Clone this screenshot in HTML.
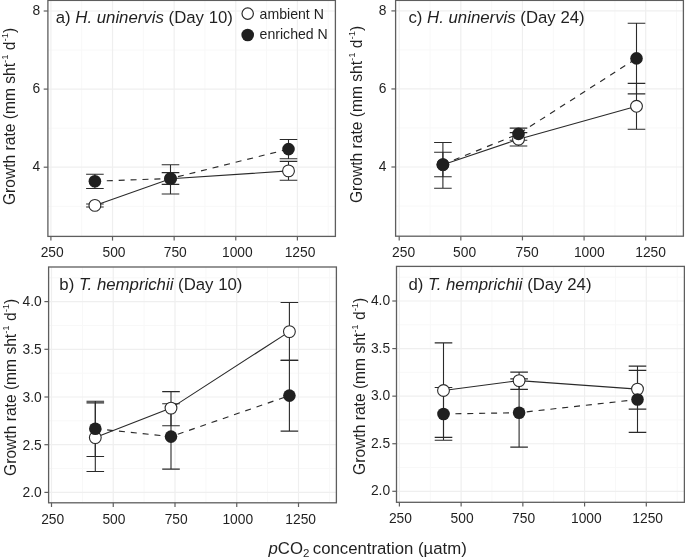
<!DOCTYPE html>
<html><head><meta charset="utf-8"><style>
html,body{margin:0;padding:0;background:#fff;width:685px;height:558px;overflow:hidden}
svg{display:block;filter:grayscale(1)}
text{font-family:"Liberation Sans",sans-serif;fill:#231f20}
.tk{font-size:13.8px}
.ti{font-size:16.8px}
.lg{font-size:14.1px}
.yl{font-size:15.6px}
.xl{font-size:16.75px}
</style></head><body>
<svg width="685" height="558" viewBox="0 0 685 558">
<rect width="685" height="558" fill="#fff"/>
<line x1="81.71" y1="0.40" x2="81.71" y2="236.40" stroke="#f8f8f8" stroke-width="1.0"/>
<line x1="143.34" y1="0.40" x2="143.34" y2="236.40" stroke="#f8f8f8" stroke-width="1.0"/>
<line x1="204.96" y1="0.40" x2="204.96" y2="236.40" stroke="#f8f8f8" stroke-width="1.0"/>
<line x1="266.59" y1="0.40" x2="266.59" y2="236.40" stroke="#f8f8f8" stroke-width="1.0"/>
<line x1="328.21" y1="0.40" x2="328.21" y2="236.40" stroke="#f8f8f8" stroke-width="1.0"/>
<line x1="47.90" y1="206.25" x2="335.40" y2="206.25" stroke="#f8f8f8" stroke-width="1.0"/>
<line x1="47.90" y1="128.15" x2="335.40" y2="128.15" stroke="#f8f8f8" stroke-width="1.0"/>
<line x1="47.90" y1="50.05" x2="335.40" y2="50.05" stroke="#f8f8f8" stroke-width="1.0"/>
<line x1="50.90" y1="0.40" x2="50.90" y2="236.40" stroke="#efefef" stroke-width="1.2"/>
<line x1="112.52" y1="0.40" x2="112.52" y2="236.40" stroke="#efefef" stroke-width="1.2"/>
<line x1="174.15" y1="0.40" x2="174.15" y2="236.40" stroke="#efefef" stroke-width="1.2"/>
<line x1="235.77" y1="0.40" x2="235.77" y2="236.40" stroke="#efefef" stroke-width="1.2"/>
<line x1="297.40" y1="0.40" x2="297.40" y2="236.40" stroke="#efefef" stroke-width="1.2"/>
<line x1="47.90" y1="167.20" x2="335.40" y2="167.20" stroke="#efefef" stroke-width="1.2"/>
<line x1="47.90" y1="89.10" x2="335.40" y2="89.10" stroke="#efefef" stroke-width="1.2"/>
<line x1="47.90" y1="11.00" x2="335.40" y2="11.00" stroke="#efefef" stroke-width="1.2"/>
<rect x="47.90" y="0.40" width="287.50" height="236.00" fill="none" stroke="#5e5e5e" stroke-width="1.3"/>
<line x1="50.90" y1="236.40" x2="50.90" y2="240.60" stroke="#5e5e5e" stroke-width="1.2"/>
<text x="52.15" y="256.80" text-anchor="middle" class="tk">250</text>
<line x1="112.52" y1="236.40" x2="112.52" y2="240.60" stroke="#5e5e5e" stroke-width="1.2"/>
<text x="113.97" y="256.80" text-anchor="middle" class="tk">500</text>
<line x1="174.15" y1="236.40" x2="174.15" y2="240.60" stroke="#5e5e5e" stroke-width="1.2"/>
<text x="175.25" y="256.80" text-anchor="middle" class="tk">750</text>
<line x1="235.77" y1="236.40" x2="235.77" y2="240.60" stroke="#5e5e5e" stroke-width="1.2"/>
<text x="237.37" y="256.80" text-anchor="middle" class="tk">1000</text>
<line x1="297.40" y1="236.40" x2="297.40" y2="240.60" stroke="#5e5e5e" stroke-width="1.2"/>
<text x="300.00" y="256.80" text-anchor="middle" class="tk">1250</text>
<line x1="43.70" y1="167.20" x2="47.90" y2="167.20" stroke="#5e5e5e" stroke-width="1.2"/>
<text x="40.30" y="171.20" text-anchor="end" class="tk">4</text>
<line x1="43.70" y1="89.10" x2="47.90" y2="89.10" stroke="#5e5e5e" stroke-width="1.2"/>
<text x="40.30" y="93.10" text-anchor="end" class="tk">6</text>
<line x1="43.70" y1="11.00" x2="47.90" y2="11.00" stroke="#5e5e5e" stroke-width="1.2"/>
<text x="40.30" y="15.00" text-anchor="end" class="tk">8</text>
<line x1="430.01" y1="0.40" x2="430.01" y2="236.20" stroke="#f8f8f8" stroke-width="1.0"/>
<line x1="491.64" y1="0.40" x2="491.64" y2="236.20" stroke="#f8f8f8" stroke-width="1.0"/>
<line x1="553.26" y1="0.40" x2="553.26" y2="236.20" stroke="#f8f8f8" stroke-width="1.0"/>
<line x1="614.89" y1="0.40" x2="614.89" y2="236.20" stroke="#f8f8f8" stroke-width="1.0"/>
<line x1="676.51" y1="0.40" x2="676.51" y2="236.20" stroke="#f8f8f8" stroke-width="1.0"/>
<line x1="395.60" y1="206.03" x2="683.40" y2="206.03" stroke="#f8f8f8" stroke-width="1.0"/>
<line x1="395.60" y1="127.97" x2="683.40" y2="127.97" stroke="#f8f8f8" stroke-width="1.0"/>
<line x1="395.60" y1="49.92" x2="683.40" y2="49.92" stroke="#f8f8f8" stroke-width="1.0"/>
<line x1="399.20" y1="0.40" x2="399.20" y2="236.20" stroke="#efefef" stroke-width="1.2"/>
<line x1="460.82" y1="0.40" x2="460.82" y2="236.20" stroke="#efefef" stroke-width="1.2"/>
<line x1="522.45" y1="0.40" x2="522.45" y2="236.20" stroke="#efefef" stroke-width="1.2"/>
<line x1="584.08" y1="0.40" x2="584.08" y2="236.20" stroke="#efefef" stroke-width="1.2"/>
<line x1="645.70" y1="0.40" x2="645.70" y2="236.20" stroke="#efefef" stroke-width="1.2"/>
<line x1="395.60" y1="167.00" x2="683.40" y2="167.00" stroke="#efefef" stroke-width="1.2"/>
<line x1="395.60" y1="88.95" x2="683.40" y2="88.95" stroke="#efefef" stroke-width="1.2"/>
<line x1="395.60" y1="10.90" x2="683.40" y2="10.90" stroke="#efefef" stroke-width="1.2"/>
<rect x="395.60" y="0.40" width="287.80" height="235.80" fill="none" stroke="#5e5e5e" stroke-width="1.3"/>
<line x1="399.20" y1="236.20" x2="399.20" y2="240.40" stroke="#5e5e5e" stroke-width="1.2"/>
<text x="403.60" y="256.60" text-anchor="middle" class="tk">250</text>
<line x1="460.82" y1="236.20" x2="460.82" y2="240.40" stroke="#5e5e5e" stroke-width="1.2"/>
<text x="464.62" y="256.60" text-anchor="middle" class="tk">500</text>
<line x1="522.45" y1="236.20" x2="522.45" y2="240.40" stroke="#5e5e5e" stroke-width="1.2"/>
<text x="527.05" y="256.60" text-anchor="middle" class="tk">750</text>
<line x1="584.08" y1="236.20" x2="584.08" y2="240.40" stroke="#5e5e5e" stroke-width="1.2"/>
<text x="589.28" y="256.60" text-anchor="middle" class="tk">1000</text>
<line x1="645.70" y1="236.20" x2="645.70" y2="240.40" stroke="#5e5e5e" stroke-width="1.2"/>
<text x="650.60" y="256.60" text-anchor="middle" class="tk">1250</text>
<line x1="391.40" y1="167.00" x2="395.60" y2="167.00" stroke="#5e5e5e" stroke-width="1.2"/>
<text x="386.40" y="170.90" text-anchor="end" class="tk">4</text>
<line x1="391.40" y1="88.95" x2="395.60" y2="88.95" stroke="#5e5e5e" stroke-width="1.2"/>
<text x="386.40" y="92.85" text-anchor="end" class="tk">6</text>
<line x1="391.40" y1="10.90" x2="395.60" y2="10.90" stroke="#5e5e5e" stroke-width="1.2"/>
<text x="386.40" y="14.80" text-anchor="end" class="tk">8</text>
<line x1="82.38" y1="267.00" x2="82.38" y2="502.80" stroke="#f8f8f8" stroke-width="1.0"/>
<line x1="144.12" y1="267.00" x2="144.12" y2="502.80" stroke="#f8f8f8" stroke-width="1.0"/>
<line x1="205.88" y1="267.00" x2="205.88" y2="502.80" stroke="#f8f8f8" stroke-width="1.0"/>
<line x1="267.62" y1="267.00" x2="267.62" y2="502.80" stroke="#f8f8f8" stroke-width="1.0"/>
<line x1="329.38" y1="267.00" x2="329.38" y2="502.80" stroke="#f8f8f8" stroke-width="1.0"/>
<line x1="48.60" y1="468.55" x2="336.40" y2="468.55" stroke="#f8f8f8" stroke-width="1.0"/>
<line x1="48.60" y1="420.85" x2="336.40" y2="420.85" stroke="#f8f8f8" stroke-width="1.0"/>
<line x1="48.60" y1="373.15" x2="336.40" y2="373.15" stroke="#f8f8f8" stroke-width="1.0"/>
<line x1="48.60" y1="325.45" x2="336.40" y2="325.45" stroke="#f8f8f8" stroke-width="1.0"/>
<line x1="48.60" y1="277.75" x2="336.40" y2="277.75" stroke="#f8f8f8" stroke-width="1.0"/>
<line x1="51.50" y1="267.00" x2="51.50" y2="502.80" stroke="#efefef" stroke-width="1.2"/>
<line x1="113.25" y1="267.00" x2="113.25" y2="502.80" stroke="#efefef" stroke-width="1.2"/>
<line x1="175.00" y1="267.00" x2="175.00" y2="502.80" stroke="#efefef" stroke-width="1.2"/>
<line x1="236.75" y1="267.00" x2="236.75" y2="502.80" stroke="#efefef" stroke-width="1.2"/>
<line x1="298.50" y1="267.00" x2="298.50" y2="502.80" stroke="#efefef" stroke-width="1.2"/>
<line x1="48.60" y1="492.40" x2="336.40" y2="492.40" stroke="#efefef" stroke-width="1.2"/>
<line x1="48.60" y1="444.70" x2="336.40" y2="444.70" stroke="#efefef" stroke-width="1.2"/>
<line x1="48.60" y1="397.00" x2="336.40" y2="397.00" stroke="#efefef" stroke-width="1.2"/>
<line x1="48.60" y1="349.30" x2="336.40" y2="349.30" stroke="#efefef" stroke-width="1.2"/>
<line x1="48.60" y1="301.60" x2="336.40" y2="301.60" stroke="#efefef" stroke-width="1.2"/>
<rect x="48.60" y="267.00" width="287.80" height="235.80" fill="none" stroke="#5e5e5e" stroke-width="1.3"/>
<line x1="51.50" y1="502.80" x2="51.50" y2="507.00" stroke="#5e5e5e" stroke-width="1.2"/>
<text x="52.65" y="523.90" text-anchor="middle" class="tk">250</text>
<line x1="113.25" y1="502.80" x2="113.25" y2="507.00" stroke="#5e5e5e" stroke-width="1.2"/>
<text x="113.90" y="523.90" text-anchor="middle" class="tk">500</text>
<line x1="175.00" y1="502.80" x2="175.00" y2="507.00" stroke="#5e5e5e" stroke-width="1.2"/>
<text x="176.20" y="523.90" text-anchor="middle" class="tk">750</text>
<line x1="236.75" y1="502.80" x2="236.75" y2="507.00" stroke="#5e5e5e" stroke-width="1.2"/>
<text x="237.75" y="523.90" text-anchor="middle" class="tk">1000</text>
<line x1="298.50" y1="502.80" x2="298.50" y2="507.00" stroke="#5e5e5e" stroke-width="1.2"/>
<text x="300.70" y="523.90" text-anchor="middle" class="tk">1250</text>
<line x1="44.40" y1="492.40" x2="48.60" y2="492.40" stroke="#5e5e5e" stroke-width="1.2"/>
<text x="41.80" y="497.20" text-anchor="end" class="tk">2.0</text>
<line x1="44.40" y1="444.70" x2="48.60" y2="444.70" stroke="#5e5e5e" stroke-width="1.2"/>
<text x="41.80" y="449.50" text-anchor="end" class="tk">2.5</text>
<line x1="44.40" y1="397.00" x2="48.60" y2="397.00" stroke="#5e5e5e" stroke-width="1.2"/>
<text x="41.80" y="401.80" text-anchor="end" class="tk">3.0</text>
<line x1="44.40" y1="349.30" x2="48.60" y2="349.30" stroke="#5e5e5e" stroke-width="1.2"/>
<text x="41.80" y="354.10" text-anchor="end" class="tk">3.5</text>
<line x1="44.40" y1="301.60" x2="48.60" y2="301.60" stroke="#5e5e5e" stroke-width="1.2"/>
<text x="41.80" y="306.40" text-anchor="end" class="tk">4.0</text>
<line x1="430.26" y1="266.40" x2="430.26" y2="502.30" stroke="#f8f8f8" stroke-width="1.0"/>
<line x1="491.99" y1="266.40" x2="491.99" y2="502.30" stroke="#f8f8f8" stroke-width="1.0"/>
<line x1="553.71" y1="266.40" x2="553.71" y2="502.30" stroke="#f8f8f8" stroke-width="1.0"/>
<line x1="615.44" y1="266.40" x2="615.44" y2="502.30" stroke="#f8f8f8" stroke-width="1.0"/>
<line x1="677.16" y1="266.40" x2="677.16" y2="502.30" stroke="#f8f8f8" stroke-width="1.0"/>
<line x1="396.50" y1="467.51" x2="684.40" y2="467.51" stroke="#f8f8f8" stroke-width="1.0"/>
<line x1="396.50" y1="419.94" x2="684.40" y2="419.94" stroke="#f8f8f8" stroke-width="1.0"/>
<line x1="396.50" y1="372.36" x2="684.40" y2="372.36" stroke="#f8f8f8" stroke-width="1.0"/>
<line x1="396.50" y1="324.79" x2="684.40" y2="324.79" stroke="#f8f8f8" stroke-width="1.0"/>
<line x1="396.50" y1="277.21" x2="684.40" y2="277.21" stroke="#f8f8f8" stroke-width="1.0"/>
<line x1="399.40" y1="266.40" x2="399.40" y2="502.30" stroke="#efefef" stroke-width="1.2"/>
<line x1="461.12" y1="266.40" x2="461.12" y2="502.30" stroke="#efefef" stroke-width="1.2"/>
<line x1="522.85" y1="266.40" x2="522.85" y2="502.30" stroke="#efefef" stroke-width="1.2"/>
<line x1="584.57" y1="266.40" x2="584.57" y2="502.30" stroke="#efefef" stroke-width="1.2"/>
<line x1="646.30" y1="266.40" x2="646.30" y2="502.30" stroke="#efefef" stroke-width="1.2"/>
<line x1="396.50" y1="491.30" x2="684.40" y2="491.30" stroke="#efefef" stroke-width="1.2"/>
<line x1="396.50" y1="443.73" x2="684.40" y2="443.73" stroke="#efefef" stroke-width="1.2"/>
<line x1="396.50" y1="396.15" x2="684.40" y2="396.15" stroke="#efefef" stroke-width="1.2"/>
<line x1="396.50" y1="348.57" x2="684.40" y2="348.57" stroke="#efefef" stroke-width="1.2"/>
<line x1="396.50" y1="301.00" x2="684.40" y2="301.00" stroke="#efefef" stroke-width="1.2"/>
<rect x="396.50" y="266.40" width="287.90" height="235.90" fill="none" stroke="#5e5e5e" stroke-width="1.3"/>
<line x1="399.40" y1="502.30" x2="399.40" y2="506.50" stroke="#5e5e5e" stroke-width="1.2"/>
<text x="400.40" y="523.40" text-anchor="middle" class="tk">250</text>
<line x1="461.12" y1="502.30" x2="461.12" y2="506.50" stroke="#5e5e5e" stroke-width="1.2"/>
<text x="462.12" y="523.40" text-anchor="middle" class="tk">500</text>
<line x1="522.85" y1="502.30" x2="522.85" y2="506.50" stroke="#5e5e5e" stroke-width="1.2"/>
<text x="523.55" y="523.40" text-anchor="middle" class="tk">750</text>
<line x1="584.57" y1="502.30" x2="584.57" y2="506.50" stroke="#5e5e5e" stroke-width="1.2"/>
<text x="586.37" y="523.40" text-anchor="middle" class="tk">1000</text>
<line x1="646.30" y1="502.30" x2="646.30" y2="506.50" stroke="#5e5e5e" stroke-width="1.2"/>
<text x="647.70" y="523.40" text-anchor="middle" class="tk">1250</text>
<line x1="392.30" y1="491.30" x2="396.50" y2="491.30" stroke="#5e5e5e" stroke-width="1.2"/>
<text x="390.10" y="495.40" text-anchor="end" class="tk">2.0</text>
<line x1="392.30" y1="443.73" x2="396.50" y2="443.73" stroke="#5e5e5e" stroke-width="1.2"/>
<text x="390.10" y="447.83" text-anchor="end" class="tk">2.5</text>
<line x1="392.30" y1="396.15" x2="396.50" y2="396.15" stroke="#5e5e5e" stroke-width="1.2"/>
<text x="390.10" y="400.25" text-anchor="end" class="tk">3.0</text>
<line x1="392.30" y1="348.57" x2="396.50" y2="348.57" stroke="#5e5e5e" stroke-width="1.2"/>
<text x="390.10" y="352.68" text-anchor="end" class="tk">3.5</text>
<line x1="392.30" y1="301.00" x2="396.50" y2="301.00" stroke="#5e5e5e" stroke-width="1.2"/>
<text x="390.10" y="305.10" text-anchor="end" class="tk">4.0</text>
<path d="M94.90 204.00V207.00M86.10 204.00H103.70M86.10 207.00H103.70" stroke="#2a2a2a" stroke-width="1.1" fill="none"/>
<path d="M170.50 172.60V184.40M161.70 172.60H179.30M161.70 184.40H179.30" stroke="#2a2a2a" stroke-width="1.1" fill="none"/>
<path d="M288.50 161.40V180.30M279.70 161.40H297.30M279.70 180.30H297.30" stroke="#2a2a2a" stroke-width="1.1" fill="none"/>
<path d="M94.90 174.30V188.50M86.10 174.30H103.70M86.10 188.50H103.70" stroke="#2a2a2a" stroke-width="1.1" fill="none"/>
<path d="M170.50 164.80V194.00M161.70 164.80H179.30M161.70 194.00H179.30" stroke="#2a2a2a" stroke-width="1.1" fill="none"/>
<path d="M288.50 139.50V158.80M279.70 139.50H297.30M279.70 158.80H297.30" stroke="#2a2a2a" stroke-width="1.1" fill="none"/>
<polyline points="94.90,205.40 170.50,178.80 288.50,170.90" fill="none" stroke="#2a2a2a" stroke-width="1.1"/>
<polyline points="94.90,181.20 170.50,178.50 288.50,149.10" fill="none" stroke="#2a2a2a" stroke-width="1.15" stroke-dasharray="6 5.9"/>
<circle cx="94.90" cy="205.40" r="5.90" fill="#fff" stroke="#2a2a2a" stroke-width="1.1"/>
<circle cx="170.50" cy="178.80" r="5.90" fill="#fff" stroke="#2a2a2a" stroke-width="1.1"/>
<circle cx="288.50" cy="170.90" r="5.90" fill="#fff" stroke="#2a2a2a" stroke-width="1.1"/>
<circle cx="94.90" cy="181.20" r="6.30" fill="#231f20"/>
<circle cx="170.50" cy="178.50" r="6.30" fill="#231f20"/>
<circle cx="288.50" cy="149.10" r="6.30" fill="#231f20"/>
<path d="M442.90 152.30V176.70M434.10 152.30H451.70M434.10 176.70H451.70" stroke="#2a2a2a" stroke-width="1.1" fill="none"/>
<path d="M518.50 132.60V146.00M509.70 132.60H527.30M509.70 146.00H527.30" stroke="#2a2a2a" stroke-width="1.1" fill="none"/>
<path d="M636.50 83.40V129.30M627.70 83.40H645.30M627.70 129.30H645.30" stroke="#2a2a2a" stroke-width="1.1" fill="none"/>
<path d="M442.90 142.50V188.30M434.10 142.50H451.70M434.10 188.30H451.70" stroke="#2a2a2a" stroke-width="1.1" fill="none"/>
<path d="M518.50 128.10V140.30M509.70 128.10H527.30M509.70 140.30H527.30" stroke="#2a2a2a" stroke-width="1.1" fill="none"/>
<path d="M636.50 23.20V93.90M627.70 23.20H645.30M627.70 93.90H645.30" stroke="#2a2a2a" stroke-width="1.1" fill="none"/>
<polyline points="442.90,164.80 518.50,139.20 636.50,106.30" fill="none" stroke="#2a2a2a" stroke-width="1.1"/>
<polyline points="442.90,164.50 518.50,133.90 636.50,58.40" fill="none" stroke="#2a2a2a" stroke-width="1.15" stroke-dasharray="6 5.9"/>
<circle cx="442.90" cy="164.80" r="5.90" fill="#fff" stroke="#2a2a2a" stroke-width="1.1"/>
<circle cx="518.50" cy="139.20" r="5.90" fill="#fff" stroke="#2a2a2a" stroke-width="1.1"/>
<circle cx="636.50" cy="106.30" r="5.90" fill="#fff" stroke="#2a2a2a" stroke-width="1.1"/>
<circle cx="442.90" cy="164.50" r="6.30" fill="#231f20"/>
<circle cx="518.50" cy="133.90" r="6.30" fill="#231f20"/>
<circle cx="636.50" cy="58.40" r="6.30" fill="#231f20"/>
<path d="M95.30 401.30V471.50M86.50 401.30H104.10M86.50 471.50H104.10" stroke="#2a2a2a" stroke-width="1.1" fill="none"/>
<path d="M171.00 391.60V425.70M162.20 391.60H179.80M162.20 425.70H179.80" stroke="#2a2a2a" stroke-width="1.1" fill="none"/>
<path d="M289.40 302.50V360.30M280.60 302.50H298.20M280.60 360.30H298.20" stroke="#2a2a2a" stroke-width="1.1" fill="none"/>
<path d="M95.30 402.90V456.50M86.50 402.90H104.10M86.50 456.50H104.10" stroke="#2a2a2a" stroke-width="1.1" fill="none"/>
<path d="M171.00 403.80V469.10M162.20 403.80H179.80M162.20 469.10H179.80" stroke="#2a2a2a" stroke-width="1.1" fill="none"/>
<path d="M289.40 360.40V431.10M280.60 360.40H298.20M280.60 431.10H298.20" stroke="#2a2a2a" stroke-width="1.1" fill="none"/>
<polyline points="95.30,437.60 171.00,408.10 289.40,331.60" fill="none" stroke="#2a2a2a" stroke-width="1.1"/>
<polyline points="95.30,428.70 171.00,436.60 289.40,395.60" fill="none" stroke="#2a2a2a" stroke-width="1.15" stroke-dasharray="6 5.9"/>
<circle cx="95.30" cy="437.60" r="5.90" fill="#fff" stroke="#2a2a2a" stroke-width="1.1"/>
<circle cx="171.00" cy="408.10" r="5.90" fill="#fff" stroke="#2a2a2a" stroke-width="1.1"/>
<circle cx="289.40" cy="331.60" r="5.90" fill="#fff" stroke="#2a2a2a" stroke-width="1.1"/>
<circle cx="95.30" cy="428.70" r="6.30" fill="#231f20"/>
<circle cx="171.00" cy="436.60" r="6.30" fill="#231f20"/>
<circle cx="289.40" cy="395.60" r="6.30" fill="#231f20"/>
<path d="M443.50 342.90V437.40M434.70 342.90H452.30M434.70 437.40H452.30" stroke="#2a2a2a" stroke-width="1.1" fill="none"/>
<path d="M519.10 372.10V389.40M510.30 372.10H527.90M510.30 389.40H527.90" stroke="#2a2a2a" stroke-width="1.1" fill="none"/>
<path d="M637.50 370.40V409.10M628.70 370.40H646.30M628.70 409.10H646.30" stroke="#2a2a2a" stroke-width="1.1" fill="none"/>
<path d="M443.50 387.50V440.30M434.70 387.50H452.30M434.70 440.30H452.30" stroke="#2a2a2a" stroke-width="1.1" fill="none"/>
<path d="M519.10 378.90V447.10M510.30 378.90H527.90M510.30 447.10H527.90" stroke="#2a2a2a" stroke-width="1.1" fill="none"/>
<path d="M637.50 366.10V432.40M628.70 366.10H646.30M628.70 432.40H646.30" stroke="#2a2a2a" stroke-width="1.1" fill="none"/>
<polyline points="443.50,390.50 519.10,380.60 637.50,389.10" fill="none" stroke="#2a2a2a" stroke-width="1.1"/>
<polyline points="443.50,414.00 519.10,412.70 637.50,399.50" fill="none" stroke="#2a2a2a" stroke-width="1.15" stroke-dasharray="6 5.9"/>
<circle cx="443.50" cy="390.50" r="5.90" fill="#fff" stroke="#2a2a2a" stroke-width="1.1"/>
<circle cx="519.10" cy="380.60" r="5.90" fill="#fff" stroke="#2a2a2a" stroke-width="1.1"/>
<circle cx="637.50" cy="389.10" r="5.90" fill="#fff" stroke="#2a2a2a" stroke-width="1.1"/>
<circle cx="443.50" cy="414.00" r="6.30" fill="#231f20"/>
<circle cx="519.10" cy="412.70" r="6.30" fill="#231f20"/>
<circle cx="637.50" cy="399.50" r="6.30" fill="#231f20"/>
<text x="55.7" y="22.8" class="ti">a) <tspan font-style="italic">H. uninervis</tspan> (Day 10)</text>
<text x="408.4" y="22.8" class="ti">c) <tspan font-style="italic">H. uninervis</tspan> (Day 24)</text>
<text x="59.3" y="289.5" class="ti">b) <tspan font-style="italic">T. hemprichii</tspan> (Day 10)</text>
<text x="408.4" y="289.5" class="ti">d) <tspan font-style="italic">T. hemprichii</tspan> (Day 24)</text>
<circle cx="247.7" cy="13.6" r="5.7" fill="#fff" stroke="#2a2a2a" stroke-width="1.2"/>
<circle cx="247.7" cy="35.0" r="6.3" fill="#231f20"/>
<text x="259.6" y="18.5" class="lg">ambient N</text>
<text x="259.6" y="38.6" class="lg">enriched N</text>
<text transform="translate(15.2,116.4) rotate(-90)" text-anchor="middle" class="yl">Growth rate (mm sht<tspan dy="-6.8" font-size="9.5">-1</tspan><tspan dy="6.8"> d</tspan><tspan dy="-6.8" font-size="9.5">-1</tspan><tspan dy="6.8">)</tspan></text>
<text transform="translate(362.2,114.4) rotate(-90)" text-anchor="middle" class="yl">Growth rate (mm sht<tspan dy="-6.8" font-size="9.5">-1</tspan><tspan dy="6.8"> d</tspan><tspan dy="-6.8" font-size="9.5">-1</tspan><tspan dy="6.8">)</tspan></text>
<text transform="translate(15.6,387.3) rotate(-90)" text-anchor="middle" class="yl">Growth rate (mm sht<tspan dy="-6.8" font-size="9.5">-1</tspan><tspan dy="6.8"> d</tspan><tspan dy="-6.8" font-size="9.5">-1</tspan><tspan dy="6.8">)</tspan></text>
<text transform="translate(365.2,386.3) rotate(-90)" text-anchor="middle" class="yl">Growth rate (mm sht<tspan dy="-6.8" font-size="9.5">-1</tspan><tspan dy="6.8"> d</tspan><tspan dy="-6.8" font-size="9.5">-1</tspan><tspan dy="6.8">)</tspan></text>
<text x="367.6" y="553.9" text-anchor="middle" class="xl"><tspan font-style="italic">p</tspan>CO<tspan dy="3.5" font-size="11.5">2</tspan><tspan dy="-3.5" dx="-1.2"> concentration (µatm)</tspan></text>
</svg>
</body></html>
